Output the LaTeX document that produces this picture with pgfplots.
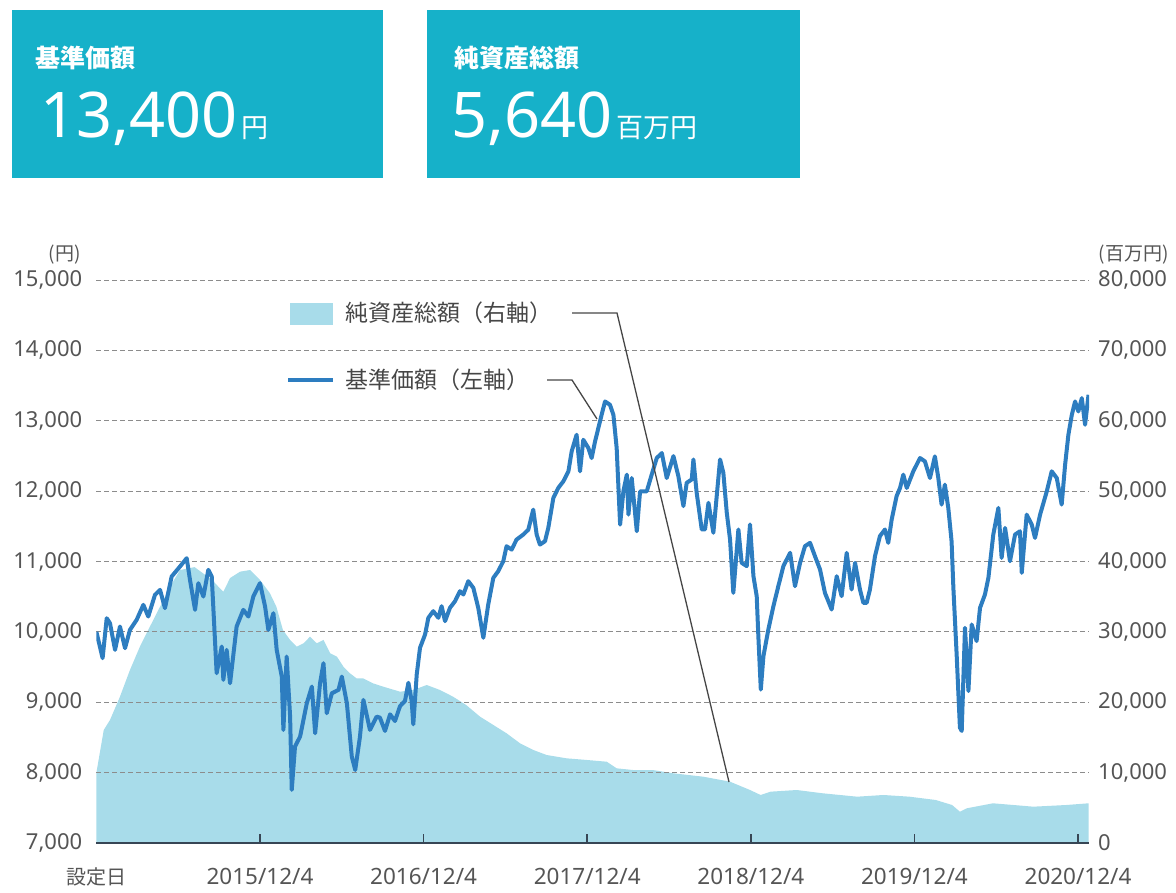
\documentclass[border=0pt]{standalone}
\usepackage{pgfplots}
\pgfplotsset{compat=1.18}
\usepackage{fontspec}
\setmainfont{Noto Sans}
\newfontfamily\cjk{Noto Sans CJK JP}

\definecolor{boxteal}{RGB}{22,177,201}
\definecolor{navline}{RGB}{45,125,192}
\definecolor{assetfill}{RGB}{168,220,234}
\definecolor{gridgray}{RGB}{140,140,140}
\definecolor{labelgray}{RGB}{85,85,85}
\definecolor{legendtext}{RGB}{70,70,70}
\definecolor{axisdark}{RGB}{55,70,85}

\begin{document}
\begin{tikzpicture}[x=1pt,y=1pt]
\useasboundingbox (0,0) rectangle (1176,893);

% summary boxes
\fill[boxteal] (12,715) rectangle (383,883);
\fill[boxteal] (427,715) rectangle (800,883);
\node[anchor=west, inner sep=0pt, text=white, font=\cjk\fontsize{25}{25}\selectfont\bfseries] at (35,835) {基準価額};
\node[anchor=base west, inner sep=0pt, text=white, font=\fontsize{63}{63}\selectfont] at (40,755)
  {13,400\hspace{4pt}{\cjk\fontsize{27}{27}\selectfont 円}};
\node[anchor=west, inner sep=0pt, text=white, font=\cjk\fontsize{25}{25}\selectfont\bfseries] at (454,835) {純資産総額};
\node[anchor=base west, inner sep=0pt, text=white, font=\fontsize{63}{63}\selectfont] at (451,755)
  {5,640\hspace{4pt}{\cjk\fontsize{27}{27}\selectfont 百万円}};

% right axis: net assets (area)
\begin{axis}[
  at={(96.4pt,50pt)}, anchor=south west, scale only axis,
  width=992.6pt, height=563pt,
  xmin=0, xmax=6.067, ymin=0, ymax=80000,
  axis line style={draw=none},
  xtick=\empty,
  ytick={0,10000,...,80000},
  ytick pos=right, yticklabel pos=right,
  major tick length=0pt,
  scaled y ticks=false,
  yticklabel style={anchor=west, inner sep=0pt, xshift=9pt, text=labelgray, font=\fontsize{22}{22}\selectfont},
  /pgf/number format/.cd, 1000 sep={,}, assume math mode=true,
]
\addplot[fill=assetfill, draw=none] coordinates {
(0,10000) (0.045,16060) (0.083,17480) (0.144,20790) (0.205,24580) (0.266,27900)
(0.327,30740) (0.389,33580) (0.450,36420) (0.511,38790) (0.600,39200) (0.700,37500)
(0.776,35710) (0.817,37650) (0.878,38550) (0.939,38790) (1.000,37370) (1.060,35520)
(1.100,33580) (1.140,30270) (1.184,28850) (1.225,27900) (1.266,28380) (1.306,29320)
(1.347,28380) (1.388,28850) (1.429,26960) (1.470,26480) (1.510,25050) (1.550,24110)
(1.590,23400) (1.630,23400) (1.690,22690) (1.754,22210) (1.856,21500) (1.937,21740)
(2.019,22450) (2.100,21740) (2.180,20790) (2.260,19610) (2.345,17950) (2.426,16770)
(2.507,15590) (2.589,14170) (2.670,13220) (2.752,12500) (2.874,12030) (2.996,11800)
(3.119,11550) (3.180,10610) (3.280,10370) (3.400,10370) (3.527,9900) (3.710,9420)
(3.873,8710) (3.995,7530) (4.060,6820) (4.120,7290) (4.280,7530) (4.440,7060)
(4.650,6580) (4.810,6820) (4.970,6580) (5.130,6110) (5.230,5400) (5.278,4450)
(5.320,4930) (5.480,5640) (5.727,5160) (5.930,5400) (6.064,5640)
} \closedcycle;
\end{axis}

% left axis: NAV (line)
\begin{axis}[
  at={(96.4pt,50pt)}, anchor=south west, scale only axis,
  width=992.6pt, height=563pt,
  xmin=0, xmax=6.067, ymin=7000, ymax=15000,
  axis x line*=bottom, axis y line*=left,
  y axis line style={draw=none},
  x axis line style={draw=axisdark, line width=2pt},
  ytick={7000,8000,...,15000},
  ytick style={draw=none},
  ymajorgrids,
  grid style={draw=gridgray, line width=0.9pt, dash pattern=on 5pt off 3pt},
  xtick={0,1,2,3,4,5,6},
  xticklabels={{\cjk\fontsize{20}{20}\selectfont 設定日},2015/12/4,2016/12/4,2017/12/4,2018/12/4,2019/12/4,2020/12/4},
  xtick style={draw=none},
  extra x ticks={1,2,3,4,5,6},
  extra x tick labels={},
  extra x tick style={tick align=inside, major tick length=9pt, xtick style={draw=axisdark, line width=1.5pt}, grid=none},
  scaled y ticks=false,
  yticklabel style={anchor=east, inner sep=0pt, xshift=-14pt, text=labelgray, font=\fontsize{22}{22}\selectfont},
  xticklabel style={anchor=base, inner sep=0pt, yshift=-42pt, text=labelgray, font=\fontsize{22.5}{22.5}\selectfont},
  /pgf/number format/.cd, 1000 sep={,}, assume math mode=true,
]
\addplot[navline, line width=4pt, line join=round] coordinates {
(0,10000) (0.038,9626) (0.063,10194) (0.083,10123) (0.114,9744) (0.144,10076)
(0.175,9768) (0.205,10028) (0.246,10171) (0.287,10384) (0.317,10218) (0.358,10526)
(0.389,10597) (0.419,10337) (0.460,10787) (0.511,10929) (0.552,11047) (0.572,10739)
(0.603,10313) (0.623,10692) (0.654,10502) (0.684,10882) (0.705,10787) (0.735,9412)
(0.766,9792) (0.776,9318) (0.796,9744) (0.817,9270) (0.857,10076) (0.898,10313)
(0.929,10218) (0.959,10502) (1.000,10692) (1.031,10360) (1.051,10028) (1.082,10265)
(1.102,9744) (1.133,9365) (1.143,8607) (1.163,9649) (1.184,8796) (1.194,7754)
(1.214,8370) (1.245,8512) (1.286,8986) (1.317,9223) (1.337,8559) (1.367,9270)
(1.388,9555) (1.408,8844) (1.439,9128) (1.480,9176) (1.500,9365) (1.531,8986)
(1.561,8228) (1.582,8038) (1.611,8512) (1.632,9033) (1.672,8607) (1.713,8796)
(1.733,8781) (1.764,8592) (1.795,8828) (1.825,8733) (1.856,8946) (1.886,9017)
(1.907,9277) (1.927,9017) (1.937,8686) (1.958,9396) (1.978,9774) (2.009,9963)
(2.029,10200) (2.059,10294) (2.090,10200) (2.110,10365) (2.131,10152) (2.161,10341)
(2.192,10436) (2.222,10578) (2.243,10531) (2.273,10720) (2.304,10625) (2.334,10341)
(2.365,9916) (2.395,10389) (2.426,10767) (2.456,10862) (2.487,11004) (2.507,11217)
(2.538,11169) (2.568,11311) (2.609,11382) (2.640,11453) (2.670,11737) (2.691,11382)
(2.711,11240) (2.742,11288) (2.762,11477) (2.793,11903) (2.823,12045) (2.854,12139)
(2.885,12281) (2.905,12565) (2.935,12801) (2.956,12281) (2.976,12730) (3.007,12612)
(3.027,12470) (3.048,12707) (3.068,12896) (3.088,13085) (3.109,13274) (3.139,13227)
(3.160,13085) (3.180,12612) (3.201,11524) (3.221,11997) (3.242,12234) (3.252,11666)
(3.272,12186) (3.303,11430) (3.323,11997) (3.364,11997) (3.394,12234) (3.425,12470)
(3.456,12541) (3.486,12186) (3.527,12498) (3.557,12213) (3.588,11787) (3.608,12118)
(3.639,12166) (3.649,12450) (3.669,11976) (3.700,11455) (3.720,11455) (3.741,11834)
(3.771,11408) (3.812,12450) (3.832,12261) (3.853,11692) (3.873,11313) (3.893,10554)
(3.924,11455) (3.944,10981) (3.975,10934) (3.995,11526) (4.016,10791) (4.036,10507)
(4.046,9938) (4.061,9180) (4.077,9654) (4.107,10033) (4.138,10365) (4.168,10649)
(4.199,10934) (4.240,11123) (4.270,10649) (4.301,10981) (4.331,11218) (4.362,11265)
(4.392,11076) (4.423,10886) (4.453,10554) (4.494,10317) (4.525,10791) (4.555,10507)
(4.586,11123) (4.616,10602) (4.637,10981) (4.667,10602) (4.688,10412) (4.708,10412)
(4.728,10602) (4.759,11076) (4.789,11360) (4.820,11455) (4.840,11265) (4.861,11597)
(4.891,11929) (4.912,12045) (4.932,12234) (4.953,12045) (4.993,12281) (5.034,12470)
(5.064,12423) (5.095,12186) (5.125,12494) (5.146,12186) (5.166,11808) (5.186,12092)
(5.207,11761) (5.227,11288) (5.238,10626) (5.258,9680) (5.278,8639) (5.289,8592)
(5.309,10058) (5.330,9159) (5.350,10105) (5.380,9869) (5.401,10342) (5.431,10531)
(5.452,10767) (5.482,11382) (5.513,11761) (5.533,11051) (5.554,11477) (5.584,11004)
(5.615,11382) (5.645,11430) (5.656,10838) (5.686,11666) (5.717,11524) (5.737,11335)
(5.768,11666) (5.809,11997) (5.839,12281) (5.870,12186) (5.900,11808) (5.921,12376)
(5.941,12801) (5.962,13085) (5.982,13274) (6.002,13132) (6.023,13322) (6.043,12943)
(6.064,13369)
};
\end{axis}

% unit labels
\node[anchor=east, inner sep=0pt, text=labelgray, font=\cjk\fontsize{19}{19}\selectfont] at (81,638) {(円)};
\node[anchor=east, inner sep=0pt, text=labelgray, font=\cjk\fontsize{19}{19}\selectfont] at (1169,638) {(百万円)};

% legend with leader lines
\fill[assetfill] (290,568) rectangle (333,590);
\node[anchor=west, inner sep=0pt, text=legendtext, font=\cjk\fontsize{23}{23}\selectfont] at (345,580) {純資産総額（右軸）};
\draw[navline, line width=4pt] (288,513) -- (333,513);
\node[anchor=west, inner sep=0pt, text=legendtext, font=\cjk\fontsize{23}{23}\selectfont] at (345,513) {基準価額（左軸）};
\draw[legendtext, line width=1.3pt] (572,580) -- (617,580) -- (729,111);
\draw[legendtext, line width=1.3pt] (547,513) -- (572,513) -- (597,474);
\end{tikzpicture}
\end{document}
